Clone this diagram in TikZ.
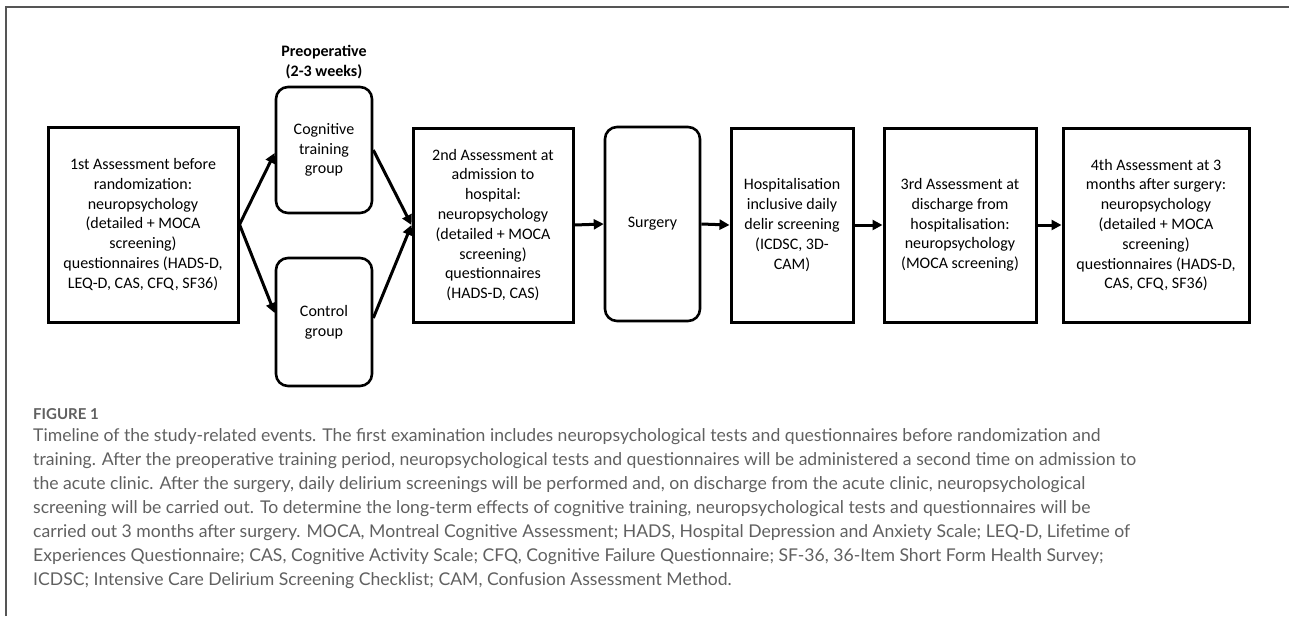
\documentclass[tikz,border=0pt]{standalone}
\usepackage{fontspec}
\setmainfont{Carlito}
\newfontfamily\capfont{Lato}
\usetikzlibrary{arrows.meta,calc}
\definecolor{capgray}{HTML}{606060}
\definecolor{framegray}{HTML}{555555}
\begin{document}
\begin{tikzpicture}[x=1pt,y=-1pt,
  boxtext/.style={align=center,font=\fontsize{16}{19.8}\selectfont,inner sep=0pt},
  sqbox/.style={boxtext,draw,line width=3pt},
  rdbox/.style={boxtext,draw,line width=2.6pt,rounded corners=12pt},
  flow/.style={line width=3pt,-{Triangle[length=10pt,width=10pt]}},
]
\useasboundingbox (0,0) rectangle (1289,616);
\draw[framegray,line width=1.5pt] (6,616) -- (6,7) -- (1289,7);

\node[boxtext,font=\bfseries\fontsize{16}{20}\selectfont] (pre) at (324,62) {Preoperative\\(2-3 weeks)};

\node[sqbox,minimum width=190pt,minimum height=195pt] (b1) at (143,224.5)
  {1st Assessment before\\randomization:\\neuropsychology\\(detailed + MOCA\\screening)\\questionnaires (HADS-D,\\LEQ-D, CAS, CFQ, SF36)};
\node[rdbox,minimum width=96pt,minimum height=126pt] (cog) at (324,150) {Cognitive\\training\\group};
\node[rdbox,minimum width=96pt,minimum height=128pt] (ctrl) at (324,322) {Control\\group};
\node[sqbox,minimum width=160pt,minimum height=194pt] (b2) at (493,225)
  {2nd Assessment at\\admission to\\hospital:\\neuropsychology\\(detailed + MOCA\\screening)\\questionnaires\\(HADS-D, CAS)};
\node[rdbox,minimum width=95pt,minimum height=194pt] (surg) at (652.5,224) {Surgery};
\node[sqbox,minimum width=122pt,minimum height=194pt] (hosp) at (792,225)
  {Hospitalisation\\inclusive daily\\delir screening\\(ICDSC, 3D-\\CAM)};
\node[sqbox,minimum width=152pt,minimum height=194pt] (b3) at (960,225)
  {3rd Assessment at\\discharge from\\hospitalisation:\\neuropsychology\\(MOCA screening)};
\node[sqbox,minimum width=186pt,minimum height=194pt] (b4) at (1156,225)
  {4th Assessment at 3\\months after surgery:\\neuropsychology\\(detailed + MOCA\\screening)\\questionnaires (HADS-D,\\CAS, CFQ, SF36)};

\draw[flow] (b1.east) -- ($(cog.west)+(0,3)$);
\draw[flow] (b1.east) -- ($(ctrl.west)+(0,-9)$);
\draw[flow] (cog.east) -- (b2.west);
\draw[flow] ($(ctrl.east)+(0,-4)$) -- (b2.west);
\draw[flow] (b2.east) -- (surg.west);
\draw[flow] (surg.east) -- (hosp.west);
\draw[flow] (hosp.east) -- (b3.west);
\draw[flow] (b3.east) -- (b4.west);

\node[anchor=base west,inner sep=0pt,text=capgray,font=\capfont\bfseries\fontsize{15}{16}\selectfont] (fig) at (33,419) {FIGURE 1};
\node[anchor=north west,inner sep=0pt,align=left,text=capgray,font=\capfont\fontsize{17.6}{24}\selectfont] (cap) at (33,428)
{Timeline of the study-related events. The first examination includes neuropsychological tests and questionnaires before randomization and\\
training. After the preoperative training period, neuropsychological tests and questionnaires will be administered a second time on admission to\\
the acute clinic. After the surgery, daily delirium screenings will be performed and, on discharge from the acute clinic, neuropsychological\\
screening will be carried out. To determine the long-term effects of cognitive training, neuropsychological tests and questionnaires will be\\
carried out 3 months after surgery. MOCA, Montreal Cognitive Assessment; HADS, Hospital Depression and Anxiety Scale; LEQ-D, Lifetime of\\
Experiences Questionnaire; CAS, Cognitive Activity Scale; CFQ, Cognitive Failure Questionnaire; SF-36, 36-Item Short Form Health Survey;\\
ICDSC; Intensive Care Delirium Screening Checklist; CAM, Confusion Assessment Method.};
\end{tikzpicture}
\end{document}
